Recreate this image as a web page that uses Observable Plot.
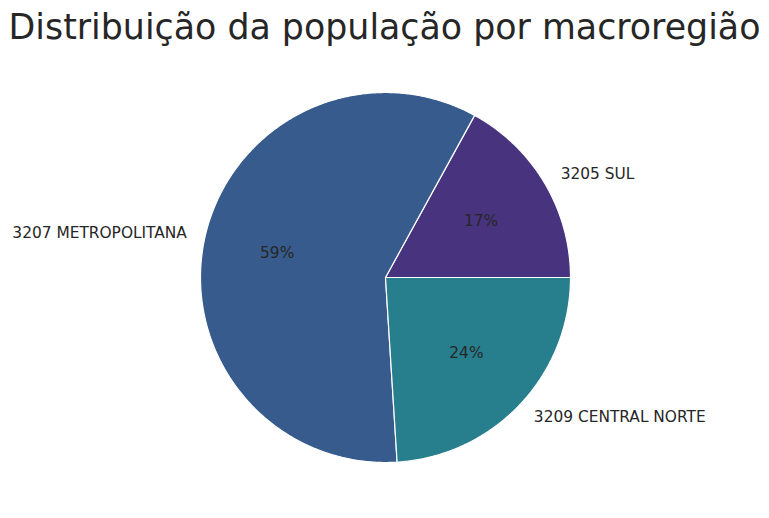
<!DOCTYPE html>
<html>
<head>
<meta charset="utf-8">
<script src="https://cdn.jsdelivr.net/npm/d3@7"></script>
<script src="https://cdn.jsdelivr.net/npm/@observablehq/plot@0.6"></script>
<style>
  html, body { margin: 0; padding: 0; background: #fff; }
  #wrap { width: 769px; height: 518px; position: relative; overflow: hidden; }
  #title { position: absolute; left: 0; top: 5px; width: 769px; text-align: center;
    font-family: "DejaVu Sans", sans-serif; font-size: 34.8px; color: #262626; line-height: 44px; white-space: nowrap; }
  #chart { position: absolute; left: 0; top: 55px; }
  svg text { font-family: "DejaVu Sans", sans-serif; }
</style>
</head>
<body>
<div id="wrap">
  <div id="title">Distribuição da população por macroregião</div>
  <div id="chart"></div>
</div>
<script>
const categories = ["3205 SUL", "3207 METROPOLITANA", "3209 CENTRAL NORTE"];
const values = [17, 59, 24];
const colors = ["#48337f", "#375b8c", "#277e8d"];

const total = d3.sum(values);
const polys = [];
const labels = [];
let start = 0;
values.forEach((v, i) => {
  const span = v / total * 2 * Math.PI;
  const end = start + span;
  const n = Math.max(8, Math.ceil(span / (Math.PI / 360)));
  polys.push({cat: categories[i], x: 0, y: 0, k: -1});
  for (let j = 0; j <= n; j++) {
    const a = start + span * j / n;
    polys.push({cat: categories[i], x: Math.cos(a), y: Math.sin(a), k: j});
  }
  polys.push({cat: categories[i], x: 0, y: 0, k: n + 1});
  const mid = (start + end) / 2;
  labels.push({
    cat: categories[i],
    pct: d3.format(".0f")(v / total * 100) + "%",
    lx: 1.1 * Math.cos(mid), ly: 1.1 * Math.sin(mid),
    px: 0.6 * Math.cos(mid), py: 0.6 * Math.sin(mid),
    anchor: Math.cos(mid) >= 0 ? "start" : "end"
  });
  start = end;
});

const W = 769, H = 463, R = 185, cx = 385, cy = 222;
const chart = Plot.plot({
  width: W, height: H,
  margin: 0,
  x: {domain: [-cx / R, (W - cx) / R], axis: null},
  y: {domain: [-(H - cy) / R, cy / R], axis: null},
  color: {domain: categories, range: colors},
  marks: [
    Plot.line(polys, {x: "x", y: "y", z: "cat", fill: "cat", stroke: "white", strokeWidth: 1.2, curve: "linear-closed"}),
    Plot.text(labels.filter(d => d.anchor === "start"), {x: "lx", y: "ly", text: "cat", textAnchor: "start", fontSize: 15.4, fill: "#262626"}),
    Plot.text(labels.filter(d => d.anchor === "end"), {x: "lx", y: "ly", text: "cat", textAnchor: "end", fontSize: 15.4, fill: "#262626"}),
    Plot.text(labels, {x: "px", y: "py", text: "pct", fontSize: 15.4, fill: "#262626"})
  ]
});
document.getElementById("chart").appendChild(chart);
</script>
</body>
</html>
